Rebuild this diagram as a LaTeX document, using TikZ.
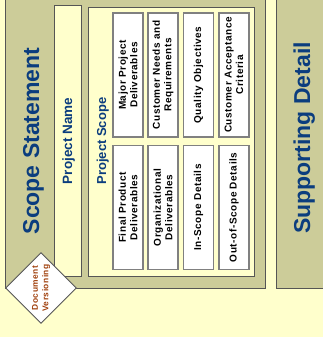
\documentclass[tikz,border=0pt]{standalone}
\usepackage{fontspec}
\setmainfont{Liberation Sans}
\usetikzlibrary{shapes.geometric}
\definecolor{bgyellow}{HTML}{FFFFCC}
\definecolor{olivepanel}{HTML}{CCCC99}
\definecolor{titleblue}{HTML}{0B3D7E}
\definecolor{verbrown}{HTML}{A0400C}
\definecolor{edgegray}{HTML}{555555}
\newfontfamily\spacedfont[LetterSpace=6]{Liberation Sans}
\tikzset{
  panel/.style={fill=olivepanel, draw=edgegray, line width=0.9pt},
  lightbox/.style={fill=bgyellow, draw=edgegray, line width=0.9pt},
  itembox/.style={rectangle, fill=white, draw=gray, line width=1.3pt, rotate=90,
    align=center, inner sep=0pt, minimum width=124pt, minimum height=30pt,
    font=\spacedfont\bfseries\fontsize{10}{11.5}\selectfont, text=black},
  bigtitle/.style={rotate=90, anchor=base, text=titleblue, font=\bfseries\fontsize{23}{27}\selectfont, inner sep=0pt},
  subtitle/.style={rotate=90, text=titleblue, font=\bfseries\fontsize{13.5}{16}\selectfont, inner sep=0pt}
}
\begin{document}
\begin{tikzpicture}[x=1pt, y=-1pt]
\useasboundingbox (0,0) rectangle (323,337);
\fill[bgyellow] (0,0) rectangle (323,337);
% panels
\draw[panel] (5,-5) rectangle (265,288);
\draw[panel] (276,-5) rectangle (330,288);
% project name strip
\node[lightbox, rotate=90, minimum width=271pt, minimum height=27pt, inner sep=0pt] (pname) at (67.5,140.5) {};
\node[subtitle, anchor=base] (pnametxt) at (72,141) {Project Name};
% project scope box
\node[lightbox, rotate=90, minimum width=269pt, minimum height=166pt, inner sep=0pt] (pscope) at (171,141.5) {};
\node[subtitle, anchor=base, font=\bfseries\fontsize{13}{16}\selectfont] (pscopetxt) at (106,141) {Project Scope};
% items
\node[itembox] (i1) at (128,75) {Major Project\\Deliverables};
\node[itembox] (i2) at (163,75) {Customer Needs and\\Requirements};
\node[itembox] (i3) at (198.5,75) {Quality Objectives};
\node[itembox] (i4) at (234,75) {Customer Acceptance\\Criteria};
\node[itembox] (j1) at (128,207.5) {Final Product\\Deliverables};
\node[itembox] (j2) at (163,207.5) {Organizational\\Deliverables};
\node[itembox] (j3) at (198.5,207.5) {In-Scope Details};
\node[itembox] (j4) at (234,207.5) {Out-of-Scope Details};
% titles
\node[bigtitle] (scopetitle) at (39,141) {Scope Statement};
\node[bigtitle] (suptitle) at (310,138) {Supporting Detail};
% diamond
\node[diamond, shape aspect=1, minimum size=71pt, inner sep=0pt, fill=white, draw=edgegray, line width=0.9pt] (dv) at (41,288) {};
\node[rotate=90, align=center, text=verbrown, font=\spacedfont\bfseries\fontsize{8.4}{10.5}\selectfont, inner sep=0pt] (dvtxt) at (dv.center) {Document\\Versioning};
\end{tikzpicture}
\end{document}
